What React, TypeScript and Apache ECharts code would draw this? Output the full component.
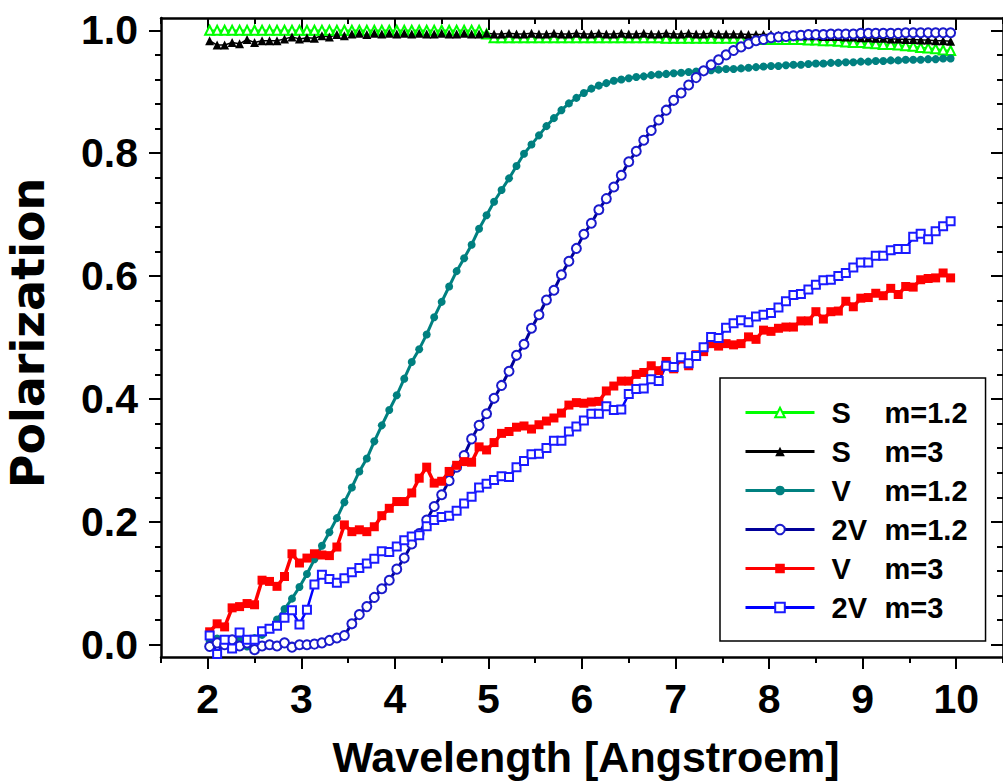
import React, { useEffect, useRef } from "react";
import * as echarts from "echarts";

// sampling grid of the wavelength axis [Angstroem]
const wavelengths: number[] = Array.from({ length: 100 }, (_, i) => Math.round((2.02 + 0.08 * i) * 100) / 100);

const sM12 = [
  1.0, 1.0, 1.0, 1.0, 1.0, 1.0, 1.0, 1.0, 1.0, 1.0,
  1.0, 1.0, 1.0, 1.0, 1.0, 1.0, 1.0, 1.0, 1.0, 1.0,
  1.0, 1.0, 1.0, 1.0, 1.0, 1.0, 1.0, 1.0, 1.0, 1.0,
  1.0, 1.0, 1.0, 1.0, 1.0, 1.0, 1.0, 0.994, 0.988, 0.988,
  0.988, 0.988, 0.988, 0.988, 0.988, 0.988, 0.988, 0.988, 0.988, 0.988,
  0.988, 0.988, 0.988, 0.988, 0.988, 0.988, 0.988, 0.988, 0.988, 0.988,
  0.988, 0.987, 0.987, 0.987, 0.987, 0.987, 0.987, 0.987, 0.987, 0.987,
  0.987, 0.986, 0.986, 0.986, 0.985, 0.985, 0.985, 0.985, 0.985, 0.985,
  0.984, 0.984, 0.983, 0.983, 0.982, 0.981, 0.98, 0.98, 0.979, 0.978,
  0.977, 0.977, 0.976, 0.975, 0.974, 0.972, 0.971, 0.97, 0.968, 0.967,
];

const sM3 = [
  0.983, 0.976, 0.976, 0.98, 0.978, 0.985, 0.98, 0.983, 0.983, 0.983,
  0.986, 0.989, 0.986, 0.988, 0.987, 0.991, 0.989, 0.993, 0.991, 0.994,
  0.995, 0.993, 0.995, 0.994, 0.995, 0.994, 0.995, 0.994, 0.995, 0.994,
  0.994, 0.995, 0.994, 0.994, 0.995, 0.994, 0.994, 0.995, 0.994, 0.994,
  0.995, 0.994, 0.994, 0.995, 0.994, 0.994, 0.995, 0.994, 0.994, 0.995,
  0.994, 0.994, 0.995, 0.994, 0.994, 0.995, 0.994, 0.994, 0.995, 0.994,
  0.994, 0.995, 0.994, 0.994, 0.995, 0.994, 0.994, 0.995, 0.994, 0.994,
  0.994, 0.994, 0.993, 0.993, 0.993, 0.993, 0.992, 0.992, 0.992, 0.991,
  0.991, 0.991, 0.99, 0.99, 0.99, 0.989, 0.989, 0.988, 0.988, 0.987,
  0.987, 0.986, 0.986, 0.985, 0.985, 0.984, 0.984, 0.983, 0.983, 0.982,
];

const vM12 = [
  0.005, 0.01, 0.005, 0.0, 0.012, -0.003, 0.011, 0.016, 0.027, 0.041,
  0.058, 0.075, 0.094, 0.115, 0.139, 0.161, 0.183, 0.206, 0.232, 0.256,
  0.282, 0.303, 0.331, 0.357, 0.382, 0.406, 0.433, 0.46, 0.481, 0.505,
  0.533, 0.558, 0.583, 0.608, 0.629, 0.651, 0.677, 0.699, 0.721, 0.74,
  0.759, 0.779, 0.799, 0.814, 0.829, 0.844, 0.857, 0.87, 0.881, 0.89,
  0.898, 0.905, 0.91, 0.914, 0.918, 0.92, 0.922, 0.924, 0.925, 0.927,
  0.928, 0.929, 0.93, 0.931, 0.932, 0.933, 0.934, 0.935, 0.936, 0.937,
  0.937, 0.938, 0.939, 0.94, 0.941, 0.942, 0.942, 0.943, 0.944, 0.944,
  0.945, 0.946, 0.946, 0.947, 0.947, 0.948, 0.948, 0.949, 0.949, 0.95,
  0.95, 0.951, 0.951, 0.952, 0.952, 0.952, 0.953, 0.953, 0.954, 0.954,
];

const v2M12 = [
  -0.003, 0.003, 0.0, 0.008, -0.002, 0.003, -0.008, -0.002, 0.0, -0.002,
  0.003, -0.004, 0.0, 0.0, 0.001, 0.003, 0.007, 0.011, 0.015, 0.034,
  0.049, 0.062, 0.077, 0.091, 0.105, 0.123, 0.141, 0.164, 0.181, 0.203,
  0.225, 0.244, 0.267, 0.289, 0.308, 0.335, 0.357, 0.376, 0.401, 0.422,
  0.445, 0.471, 0.489, 0.515, 0.537, 0.561, 0.577, 0.602, 0.624, 0.645,
  0.668, 0.686, 0.708, 0.726, 0.745, 0.764, 0.786, 0.803, 0.821, 0.837,
  0.854, 0.87, 0.886, 0.898, 0.911, 0.923, 0.934, 0.944, 0.952, 0.96,
  0.967, 0.973, 0.978, 0.983, 0.985, 0.988, 0.989, 0.99, 0.991, 0.992,
  0.993, 0.993, 0.993, 0.994, 0.994, 0.994, 0.994, 0.995, 0.995, 0.995,
  0.995, 0.995, 0.995, 0.996, 0.996, 0.996, 0.996, 0.996, 0.996, 0.996,
];

const vM3 = [
  0.021, 0.034, 0.029, 0.06, 0.062, 0.067, 0.065, 0.105, 0.103, 0.095,
  0.111, 0.148, 0.133, 0.141, 0.148, 0.146, 0.145, 0.159, 0.195, 0.184,
  0.187, 0.184, 0.192, 0.21, 0.222, 0.233, 0.233, 0.247, 0.271, 0.289,
  0.263, 0.266, 0.282, 0.292, 0.298, 0.297, 0.322, 0.317, 0.329, 0.344,
  0.347, 0.354, 0.356, 0.351, 0.358, 0.364, 0.369, 0.377, 0.39, 0.394,
  0.393, 0.395, 0.396, 0.413, 0.421, 0.429, 0.429, 0.44, 0.443, 0.454,
  0.446, 0.461, 0.449, 0.465, 0.454, 0.472, 0.477, 0.49, 0.486, 0.49,
  0.488, 0.49, 0.501, 0.497, 0.512, 0.51, 0.515, 0.517, 0.517, 0.527,
  0.527, 0.542, 0.53, 0.542, 0.543, 0.559, 0.55, 0.564, 0.565, 0.572,
  0.568, 0.58, 0.57, 0.583, 0.582, 0.594, 0.596, 0.597, 0.605, 0.597,
];

const v2M3 = [
  0.015, -0.015, 0.008, -0.006, 0.02, 0.008, 0.008, 0.022, 0.026, 0.031,
  0.044, 0.056, 0.033, 0.057, 0.098, 0.114, 0.107, 0.101, 0.108, 0.118,
  0.125, 0.132, 0.14, 0.152, 0.151, 0.16, 0.17, 0.176, 0.178, 0.193,
  0.203, 0.208, 0.21, 0.218, 0.23, 0.241, 0.256, 0.262, 0.268, 0.274,
  0.273, 0.289, 0.299, 0.31, 0.311, 0.32, 0.332, 0.332, 0.347, 0.355,
  0.365, 0.376, 0.376, 0.388, 0.382, 0.383, 0.408, 0.416, 0.417, 0.432,
  0.429, 0.454, 0.452, 0.468, 0.458, 0.47, 0.484, 0.501, 0.499, 0.516,
  0.523, 0.528, 0.525, 0.534, 0.537, 0.54, 0.549, 0.559, 0.569, 0.571,
  0.578, 0.586, 0.593, 0.594, 0.6, 0.605, 0.614, 0.622, 0.622, 0.633,
  0.633, 0.642, 0.644, 0.644, 0.664, 0.669, 0.66, 0.673, 0.681, 0.689,
];

const xMajorTicks = [2, 3, 4, 5, 6, 7, 8, 9, 10];
const xMinorTicks = [1.5, 2, 2.5, 3, 3.5, 4, 4.5, 5, 5.5, 6, 6.5, 7, 7.5, 8, 8.5, 9, 9.5, 10, 10.5];
const yMajorTicks = [0, 0.2, 0.4, 0.6, 0.8, 1.0];
const yMinorTicks = [0, 0.04, 0.08, 0.12, 0.16, 0.2, 0.24, 0.28, 0.32, 0.36, 0.4, 0.44, 0.48, 0.52, 0.56, 0.6, 0.64, 0.68, 0.72, 0.76, 0.8, 0.84, 0.88, 0.92, 0.96, 1.0];

const seriesNames = ["S m=1.2", "S m=3", "V m=1.2", "2V m=1.2", "V m=3", "2V m=3"];

const FONT = "'Liberation Sans', Arial, Helvetica, sans-serif";

function pairs(vals: number[]) {
  return wavelengths.map((x, i) => [x, vals[i]]);
}

export default function App() {
  const ref = useRef<HTMLDivElement>(null);

  useEffect(() => {
    document.body.style.margin = "0";
    if (!ref.current) return;
    const chart = echarts.init(ref.current, undefined, { renderer: "svg" });

    const black = { color: "#000", width: 2.5 };
    const tickStyle = { color: "#000", width: 2 };
    const xCommon = { type: "value", min: 1.5, max: 10.5, splitLine: { show: false }, gridIndex: 0 };
    const yCommon = { type: "value", min: -0.02, max: 1.02, splitLine: { show: false }, gridIndex: 0 };
    const labelFont = { fontSize: 41, fontWeight: "bold", fontFamily: FONT, color: "#000" };

    const option: any = {
      animation: false,
      backgroundColor: "#fff",
      grid: { left: 161, top: 18, width: 845, height: 639, containLabel: false },
      xAxis: [
        {
          ...xCommon, position: "bottom",
          axisLine: { show: true, onZero: false, lineStyle: black },
          axisTick: { show: true, inside: false, length: 6, customValues: xMinorTicks, lineStyle: tickStyle },
          axisLabel: { show: true, customValues: xMajorTicks, margin: 21, ...labelFont },
        },
        {
          ...xCommon, position: "bottom",
          axisLine: { show: false, onZero: false },
          axisTick: { show: true, inside: false, length: 12, customValues: xMajorTicks, lineStyle: tickStyle },
          axisLabel: { show: false },
        },
        {
          ...xCommon, position: "top",
          axisLine: { show: true, onZero: false, lineStyle: black },
          axisTick: { show: true, inside: true, length: 6, customValues: xMinorTicks, lineStyle: tickStyle },
          axisLabel: { show: false },
        },
        {
          ...xCommon, position: "top",
          axisLine: { show: false, onZero: false },
          axisTick: { show: true, inside: true, length: 12, customValues: xMajorTicks, lineStyle: tickStyle },
          axisLabel: { show: false },
        },
      ],
      yAxis: [
        {
          ...yCommon, position: "left",
          axisLine: { show: true, onZero: false, lineStyle: black },
          axisTick: { show: true, inside: false, length: 6, customValues: yMinorTicks, lineStyle: tickStyle },
          axisLabel: {
            show: true, customValues: yMajorTicks, margin: 23, ...labelFont,
            formatter: (v: number) => v.toFixed(1),
          },
        },
        {
          ...yCommon, position: "left",
          axisLine: { show: false, onZero: false },
          axisTick: { show: true, inside: false, length: 12, customValues: yMajorTicks, lineStyle: tickStyle },
          axisLabel: { show: false },
        },
        {
          ...yCommon, position: "right",
          axisLine: { show: true, onZero: false, lineStyle: black },
          axisTick: { show: true, inside: true, length: 6, customValues: yMinorTicks, lineStyle: tickStyle },
          axisLabel: { show: false },
        },
        {
          ...yCommon, position: "right",
          axisLine: { show: false, onZero: false },
          axisTick: { show: true, inside: true, length: 12, customValues: yMajorTicks, lineStyle: tickStyle },
          axisLabel: { show: false },
        },
      ],
      legend: {
        orient: "vertical",
        left: 720,
        top: 378,
        padding: [20, 18, 19, 24],
        itemWidth: 69,
        itemHeight: 12,
        itemGap: 10,
        borderColor: "#000",
        borderWidth: 1.5,
        borderRadius: 0,
        backgroundColor: "#fff",
        selectedMode: false,
        lineStyle: { width: 3 },
        data: seriesNames,
        formatter: (name: string) => {
          const k = name.indexOf(" ");
          return `{a|${name.slice(0, k)}}{b|${name.slice(k + 1)}}`;
        },
        textStyle: {
          padding: [0, 0, 0, 12],
          rich: {
            a: { width: 53, fontSize: 29, fontWeight: "bold", fontFamily: FONT, color: "#000", lineHeight: 28 },
            b: { fontSize: 29, fontWeight: "bold", fontFamily: FONT, color: "#000", lineHeight: 28 },
          },
        },
      },
      graphic: [
        {
          type: "text",
          x: 586,
          y: 757,
          style: {
            text: "Wavelength [Angstroem]",
            font: `bold 43px ${FONT}`,
            fill: "#000",
            align: "center",
            verticalAlign: "middle",
          },
        },
        {
          type: "text",
          x: 28,
          y: 333,
          rotation: Math.PI / 2,
          style: {
            text: "Polarization",
            font: "bold 46px 'DejaVu Sans', sans-serif",
            fill: "#000",
            align: "center",
            verticalAlign: "middle",
          },
        },
      ],
      series: [
        {
          name: seriesNames[0], type: "line", data: pairs(sM12),
          symbol: "emptyTriangle", symbolSize: 9, color: "#00ff00",
          lineStyle: { width: 1.5, color: "#00ff00" }, itemStyle: { borderWidth: 1.2 },
        },
        {
          name: seriesNames[1], type: "line", data: pairs(sM3),
          symbol: "triangle", symbolSize: 9, color: "#000000",
          lineStyle: { width: 1.5, color: "#000000" },
        },
        {
          name: seriesNames[2], type: "line", data: pairs(vM12),
          symbol: "circle", symbolSize: 8, color: "#008080",
          lineStyle: { width: 3, color: "#008080" },
        },
        {
          name: seriesNames[3], type: "line", data: pairs(v2M12),
          symbol: "emptyCircle", symbolSize: 9, color: "#1a1acc",
          lineStyle: { width: 3, color: "#000099" }, itemStyle: { borderWidth: 1.2 },
        },
        {
          name: seriesNames[4], type: "line", data: pairs(vM3),
          symbol: "rect", symbolSize: 9, color: "#ff0000",
          lineStyle: { width: 3.5, color: "#ff0000" },
        },
        {
          name: seriesNames[5], type: "line", data: pairs(v2M3),
          symbol: "emptyRect", symbolSize: 8, color: "#1a1aff",
          lineStyle: { width: 2.5, color: "#0000ff" }, itemStyle: { borderWidth: 1.2 },
        },
      ],
    };

    chart.setOption(option);
    return () => chart.dispose();
  }, []);

  return <div ref={ref} style={{ width: 1003, height: 781 }} />;
}
